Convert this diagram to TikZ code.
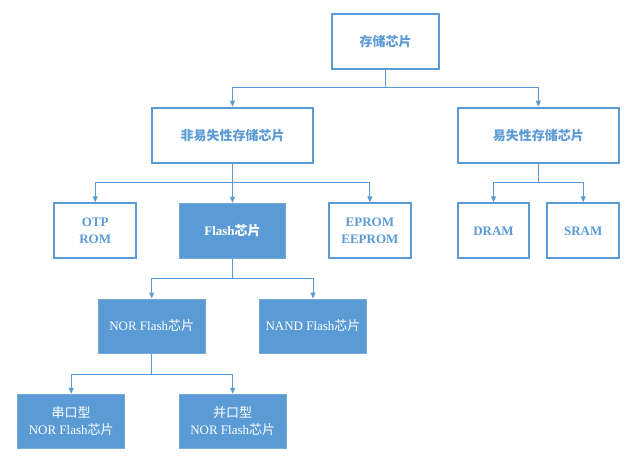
\documentclass[tikz,border=0pt]{standalone}
\usepackage{fontspec}
\setmainfont{Liberation Serif}
\newfontfamily\cjk{Noto Sans CJK SC}
\usetikzlibrary{arrows.meta}
\definecolor{mblue}{HTML}{5B9BD5}
\tikzset{
  obox/.style={draw=mblue, line width=2pt, fill=white, text=mblue, font=\fontsize{13}{17}\selectfont\bfseries, align=center, inner sep=0pt},
  fbox/.style={draw=mblue!85!white, line width=1pt, fill=mblue, text=white, font=\fontsize{13}{17}\selectfont, align=center, inner sep=0pt},
  conn/.style={draw=mblue, line width=1pt},
  arr/.style={conn, -{Triangle[width=5pt,length=6pt]}},
}
\begin{document}
\begin{tikzpicture}[x=1pt,y=-1pt]
\useasboundingbox (0,0) rectangle (640,469);
% nodes
\node[obox, minimum width=107pt, minimum height=55pt] (top) at (385.7,41.8) {{\cjk 存储芯片}};
\node[obox, minimum width=161.6pt, minimum height=55pt] (nv) at (232.5,135.2) {{\cjk 非易失性存储芯片}};
\node[obox, minimum width=161.3pt, minimum height=55pt] (vo) at (538.3,135.2) {{\cjk 易失性存储芯片}};
\node[obox, minimum width=81.7pt, minimum height=55pt] (otp) at (95.2,230.8) {OTP\\ROM};
\node[fbox, font=\fontsize{13}{17}\selectfont\bfseries, minimum width=106.7pt, minimum height=55pt] (flash) at (232.5,230.8) {Flash{\cjk 芯片}};
\node[obox, minimum width=81.7pt, minimum height=55pt] (eprom) at (369.9,230.8) {EPROM\\EEPROM};
\node[obox, minimum width=71.6pt, minimum height=55pt] (dram) at (493.5,230.8) {DRAM};
\node[obox, minimum width=71.7pt, minimum height=55pt] (sram) at (583.2,230.8) {SRAM};
\node[fbox, minimum width=106.7pt, minimum height=54pt] (nor) at (151.7,326) {NOR Flash{\cjk 芯片}};
\node[fbox, minimum width=107.4pt, minimum height=54pt] (nand) at (313,326) {NAND Flash{\cjk 芯片}};
\node[fbox, minimum width=107pt, minimum height=54pt] (ser) at (71.2,421.3) {{\cjk 串口型}\\NOR Flash{\cjk 芯片}};
\node[fbox, minimum width=106.7pt, minimum height=54pt] (par) at (232.7,421.3) {{\cjk 并口型}\\NOR Flash{\cjk 芯片}};
% junctions
\coordinate (j1) at (385.7,87.3);
\coordinate (j2) at (232.5,182.7);
\coordinate (j3) at (538.3,182.7);
\coordinate (j4) at (232.5,278.3);
\coordinate (j5) at (151.7,374.3);
% connectors
\draw[conn] (top.south) -- (j1);
\draw[arr] (j1) -| (nv.north);
\draw[arr] (j1) -| (vo.north);
\draw[conn] (nv.south) -- (j2);
\draw[arr] (j2) -| (otp.north);
\draw[arr] (j2) -- (flash.north);
\draw[arr] (j2) -| (eprom.north);
\draw[conn] (vo.south) -- (j3);
\draw[arr] (j3) -| (dram.north);
\draw[arr] (j3) -| (sram.north);
\draw[conn] (flash.south) -- (j4);
\draw[arr] (j4) -| (nor.north);
\draw[arr] (j4) -| (nand.north);
\draw[conn] (nor.south) -- (j5);
\draw[arr] (j5) -| (ser.north);
\draw[arr] (j5) -| (par.north);
\end{tikzpicture}
\end{document}
